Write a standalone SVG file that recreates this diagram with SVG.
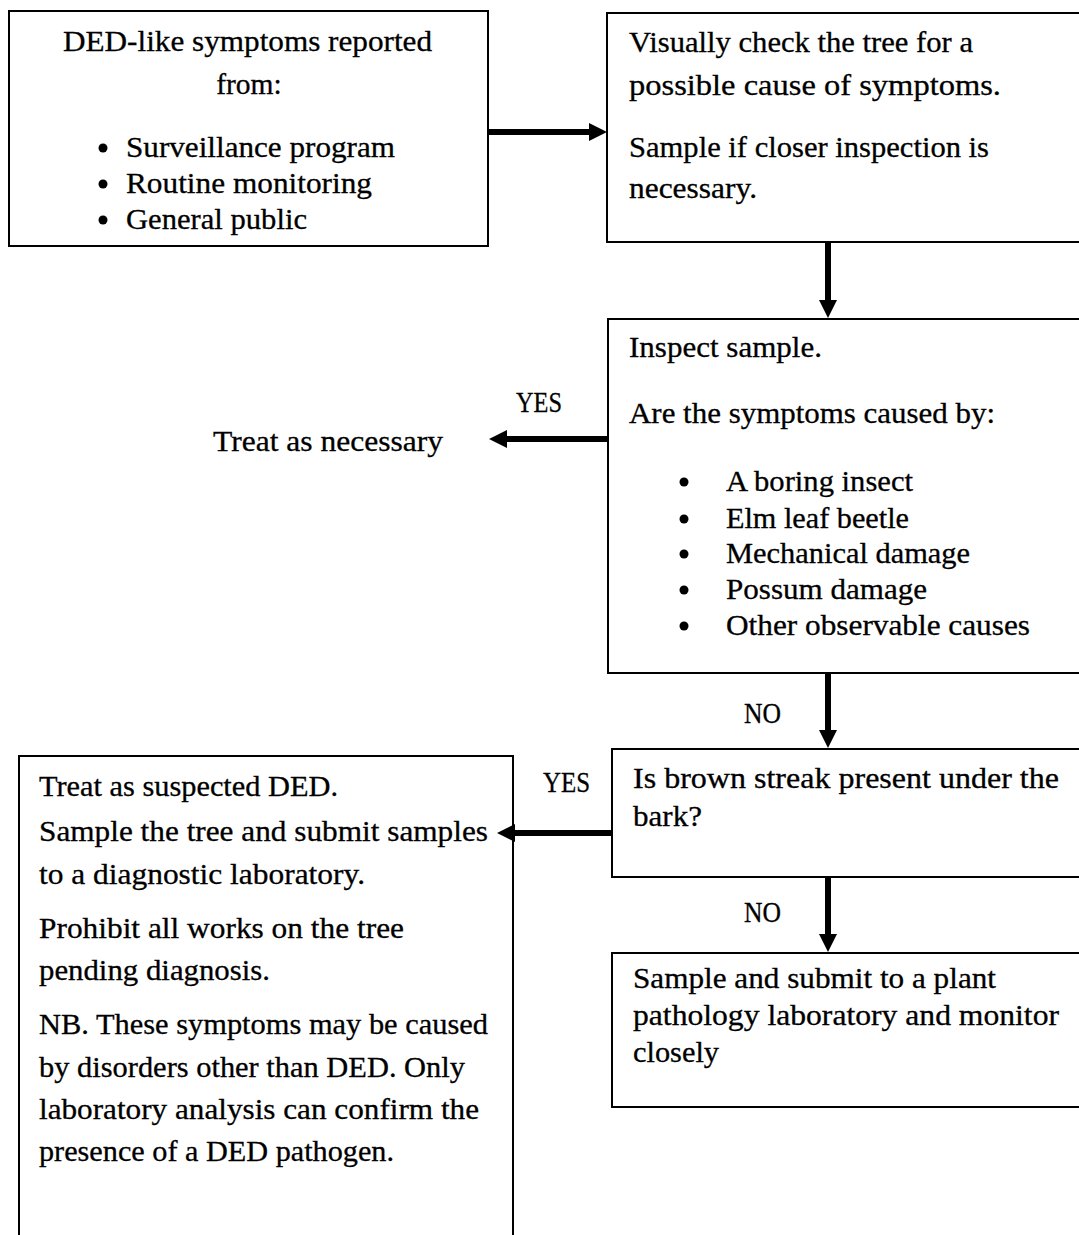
<svg xmlns="http://www.w3.org/2000/svg" width="1079" height="1235" viewBox="0 0 1079 1235">
<defs>
<style>
.box{fill:#fff;stroke:#000;stroke-width:2}
.open{fill:none;stroke:#000;stroke-width:2}
.t{font-family:"Liberation Serif","DejaVu Serif",serif;font-size:29.5px;fill:#000;stroke:#000;stroke-width:0.3}
.c{text-anchor:middle}
.con{stroke:#000;stroke-width:6;fill:none}
.dot{fill:#000}
</style>
<marker id="ah" markerUnits="userSpaceOnUse" markerWidth="18" markerHeight="18" refX="0" refY="9" orient="auto">
<path d="M0,0 L18,9 L0,18 z" fill="#000"/>
</marker>
</defs>
<rect width="1079" height="1235" fill="#fff"/>

<g id="n1">
<rect class="box" x="9" y="11" width="479" height="235"/>
<text class="t" x="63" y="51" textLength="369" lengthAdjust="spacingAndGlyphs">DED-like symptoms reported</text>
<text class="t c" x="249" y="94">from:</text>
<circle class="dot" cx="103" cy="148" r="4.5"/>
<circle class="dot" cx="103" cy="184" r="4.5"/>
<circle class="dot" cx="103" cy="220" r="4.5"/>
<text class="t" x="126" y="157" textLength="269" lengthAdjust="spacingAndGlyphs">Surveillance program</text>
<text class="t" x="126" y="193" textLength="246" lengthAdjust="spacingAndGlyphs">Routine monitoring</text>
<text class="t" x="126" y="229" textLength="181" lengthAdjust="spacingAndGlyphs">General public</text>
</g>

<g id="n2">
<rect class="box" x="607" y="13" width="480" height="229"/>
<text class="t" x="629" y="52" textLength="344" lengthAdjust="spacingAndGlyphs">Visually check the tree for a</text>
<text class="t" x="629" y="95" textLength="372" lengthAdjust="spacingAndGlyphs">possible cause of symptoms.</text>
<text class="t" x="629" y="157" textLength="360" lengthAdjust="spacingAndGlyphs">Sample if closer inspection is</text>
<text class="t" x="629" y="198" textLength="128" lengthAdjust="spacingAndGlyphs">necessary.</text>
</g>

<g id="n3">
<rect class="box" x="608" y="319" width="480" height="354"/>
<text class="t" x="629" y="357" textLength="193" lengthAdjust="spacingAndGlyphs">Inspect sample.</text>
<text class="t" x="629" y="423" textLength="366" lengthAdjust="spacingAndGlyphs">Are the symptoms caused by:</text>
<circle class="dot" cx="684" cy="482" r="4.5"/>
<circle class="dot" cx="684" cy="519" r="4.5"/>
<circle class="dot" cx="684" cy="554" r="4.5"/>
<circle class="dot" cx="684" cy="590" r="4.5"/>
<circle class="dot" cx="684" cy="626" r="4.5"/>
<text class="t" x="726" y="491" textLength="187" lengthAdjust="spacingAndGlyphs">A boring insect</text>
<text class="t" x="726" y="528" textLength="183" lengthAdjust="spacingAndGlyphs">Elm leaf beetle</text>
<text class="t" x="726" y="563" textLength="244" lengthAdjust="spacingAndGlyphs">Mechanical damage</text>
<text class="t" x="726" y="599" textLength="201" lengthAdjust="spacingAndGlyphs">Possum damage</text>
<text class="t" x="726" y="635" textLength="304" lengthAdjust="spacingAndGlyphs">Other observable causes</text>
</g>

<g id="n4">
<text class="t" x="213" y="451" textLength="230" lengthAdjust="spacingAndGlyphs">Treat as necessary</text>
</g>

<g id="n5">
<rect class="box" x="612" y="749" width="480" height="128"/>
<text class="t" x="633" y="788" textLength="426" lengthAdjust="spacingAndGlyphs">Is brown streak present under the</text>
<text class="t" x="633" y="826" textLength="69" lengthAdjust="spacingAndGlyphs">bark?</text>
</g>

<g id="n6">
<path class="open" d="M19,1240 V756 H513 V1240"/>
<text class="t" x="39" y="796" textLength="299" lengthAdjust="spacingAndGlyphs">Treat as suspected DED.</text>
<text class="t" x="39" y="841" textLength="449" lengthAdjust="spacingAndGlyphs">Sample the tree and submit samples</text>
<text class="t" x="39" y="884" textLength="326" lengthAdjust="spacingAndGlyphs">to a diagnostic laboratory.</text>
<text class="t" x="39" y="938" textLength="365" lengthAdjust="spacingAndGlyphs">Prohibit all works on the tree</text>
<text class="t" x="39" y="980" textLength="231" lengthAdjust="spacingAndGlyphs">pending diagnosis.</text>
<text class="t" x="39" y="1034" textLength="449" lengthAdjust="spacingAndGlyphs">NB. These symptoms may be caused</text>
<text class="t" x="39" y="1077" textLength="426" lengthAdjust="spacingAndGlyphs">by disorders other than DED. Only</text>
<text class="t" x="39" y="1119" textLength="440" lengthAdjust="spacingAndGlyphs">laboratory analysis can confirm the</text>
<text class="t" x="39" y="1161" textLength="355" lengthAdjust="spacingAndGlyphs">presence of a DED pathogen.</text>
</g>

<g id="n7">
<rect class="box" x="612" y="953" width="480" height="154"/>
<text class="t" x="633" y="988" textLength="363" lengthAdjust="spacingAndGlyphs">Sample and submit to a plant</text>
<text class="t" x="633" y="1025" textLength="426" lengthAdjust="spacingAndGlyphs">pathology laboratory and monitor</text>
<text class="t" x="633" y="1062" textLength="86" lengthAdjust="spacingAndGlyphs">closely</text>
</g>

<g id="connectors">
<line class="con" x1="489" y1="132" x2="589" y2="132" marker-end="url(#ah)"/>
<line class="con" x1="828" y1="242" x2="828" y2="300" marker-end="url(#ah)"/>
<line class="con" x1="608" y1="439" x2="507" y2="439" marker-end="url(#ah)"/>
<line class="con" x1="828" y1="673" x2="828" y2="730" marker-end="url(#ah)"/>
<line class="con" x1="612" y1="833" x2="515" y2="833" marker-end="url(#ah)"/>
<line class="con" x1="828" y1="877" x2="828" y2="934" marker-end="url(#ah)"/>
<text class="t" x="516" y="412" textLength="46" lengthAdjust="spacingAndGlyphs">YES</text>
<text class="t" x="744" y="723" textLength="37" lengthAdjust="spacingAndGlyphs">NO</text>
<text class="t" x="543" y="792" textLength="47" lengthAdjust="spacingAndGlyphs">YES</text>
<text class="t" x="744" y="922" textLength="37" lengthAdjust="spacingAndGlyphs">NO</text>
</g>
</svg>
